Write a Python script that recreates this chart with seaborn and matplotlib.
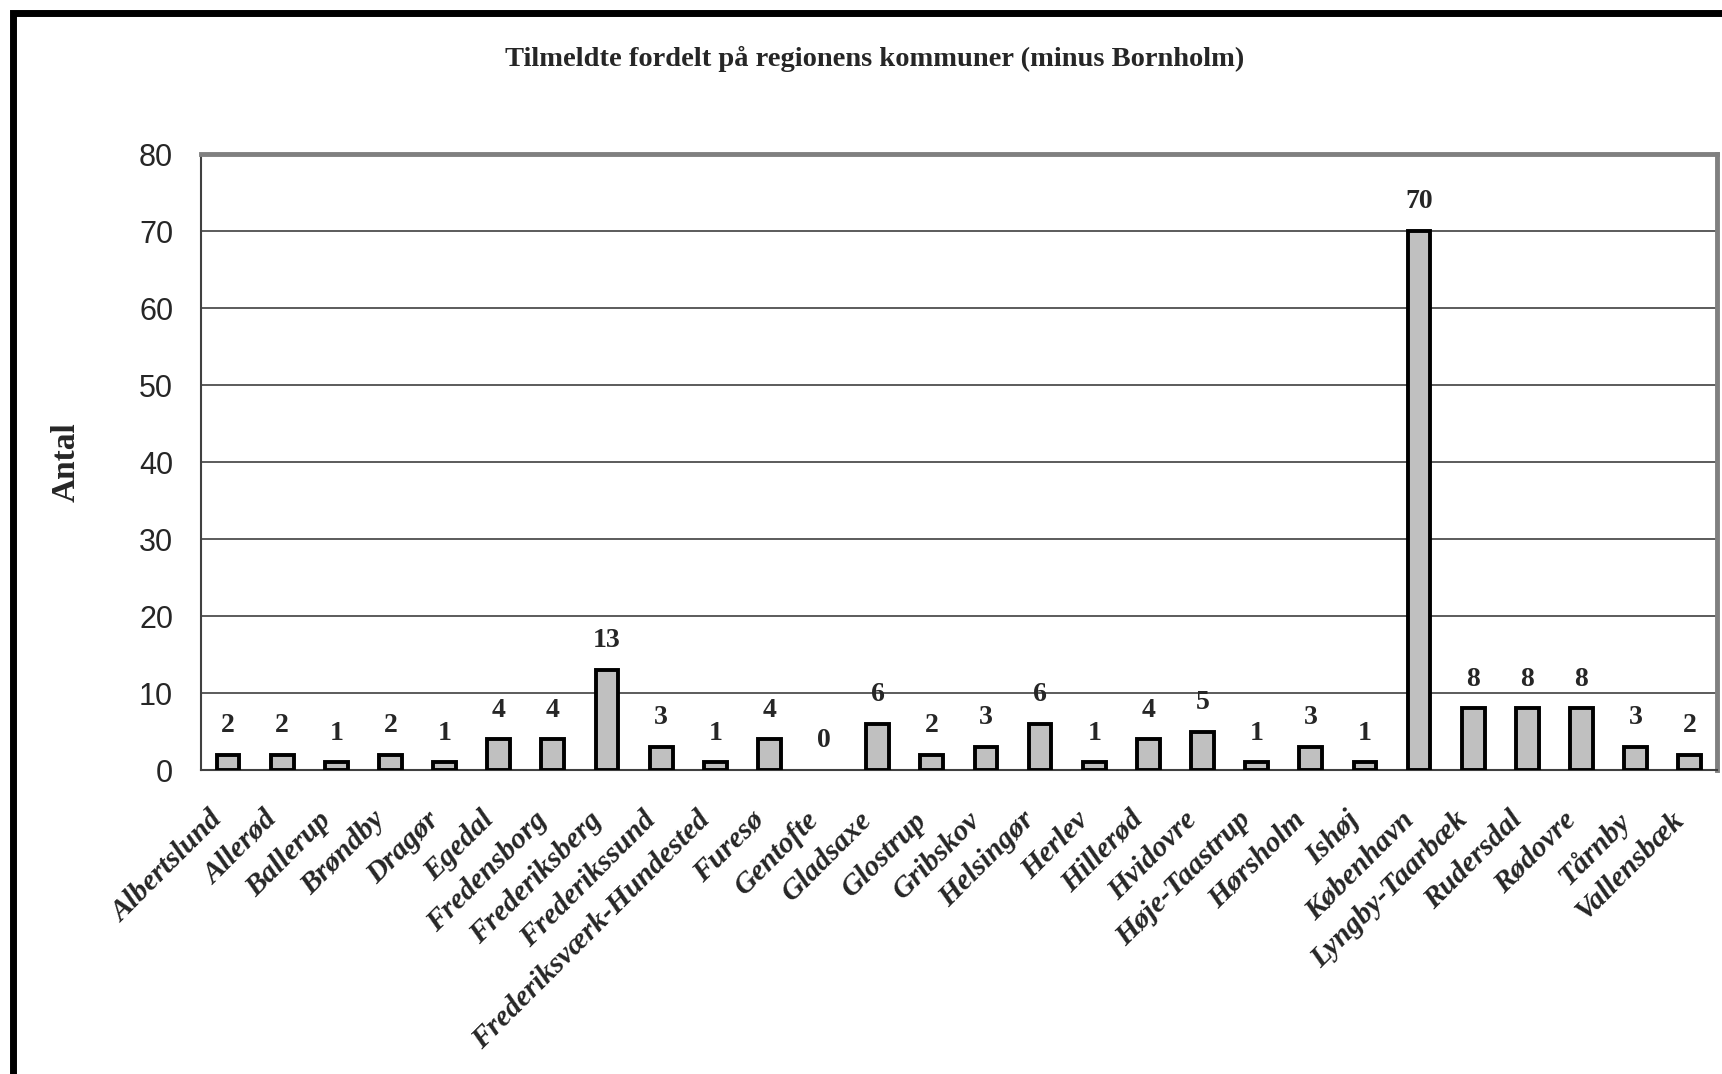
import matplotlib
matplotlib.use("Agg")
import matplotlib.pyplot as plt
import matplotlib.transforms as mtransforms
import seaborn as sns
import pandas as pd
import numpy as np
from matplotlib.patches import Rectangle

categories = ["Albertslund", "Allerød", "Ballerup", "Brøndby", "Dragør", "Egedal",
              "Fredensborg", "Frederiksberg", "Frederikssund", "Frederiksværk-Hundested",
              "Furesø", "Gentofte", "Gladsaxe", "Glostrup", "Gribskov", "Helsingør",
              "Herlev", "Hillerød", "Hvidovre", "Høje-Taastrup", "Hørsholm", "Ishøj",
              "København", "Lyngby-Taarbæk", "Rudersdal", "Rødovre", "Tårnby", "Vallensbæk"]
values = [2, 2, 1, 2, 1, 4, 4, 13, 3, 1, 4, 0, 6, 2, 3, 6, 1, 4, 5, 1, 3, 1, 70, 8, 8, 8, 3, 2]
yticks = [0, 10, 20, 30, 40, 50, 60, 70, 80]
title = "Tilmeldte fordelt på regionens kommuner (minus Bornholm)"
ylabel = "Antal"

sns.set_style("white")
plt.rcParams['font.family'] = ['Liberation Serif', 'DejaVu Serif']

df = pd.DataFrame({"kommune": categories, "antal": values})

fig = plt.figure(figsize=(17.22, 10.74), dpi=100)
ax = fig.add_axes([0.1167, 0.283, 0.997 - 0.1167, 0.8566 - 0.283])

sns.barplot(data=df, x="kommune", y="antal", color="#C0C0C0", edgecolor="black",
            linewidth=2.8, width=0.42, saturation=1, ax=ax, zorder=3)
# zero-height bars are not visible in the reference
for p in ax.patches:
    if p.get_height() == 0:
        p.set_linewidth(0)

ax.set_ylim(0, 80)
ax.set_xlim(-0.5, len(categories) - 0.5)
ax.set_yticks(yticks)
ax.set_yticklabels([str(t) for t in yticks], family="Liberation Sans", fontsize=22)
ax.yaxis.grid(True, color="#404040", linewidth=1.2, zorder=0)
ax.set_axisbelow(True)

ax.set_xticks(range(len(categories)))
ax.set_xticklabels(categories, rotation=45, ha="right", rotation_mode="anchor",
                   fontsize=21.5, fontweight="bold", fontstyle="italic")
ax.tick_params(axis="x", which="major", length=0, pad=26)
shift = mtransforms.ScaledTranslation(-19 / 100, 0, fig.dpi_scale_trans)
for lab in ax.get_xticklabels():
    lab.set_transform(lab.get_transform() + shift)
ax.set_xticks(np.arange(-0.5, len(categories), 1.0), minor=True)
ax.tick_params(axis="x", which="minor", length=10, width=1.2, color="#404040", direction="out")
ax.tick_params(axis="y", length=8, width=1.2, color="#404040", direction="out", pad=12)

ax.set_xlabel("")
ax.set_ylabel(ylabel, fontsize=24, fontweight="bold", labelpad=41)

for s in ["top", "right"]:
    ax.spines[s].set_color("#808080")
    ax.spines[s].set_linewidth(3.5)
ax.spines["left"].set_color("#404040")
ax.spines["left"].set_linewidth(1.5)
ax.spines["bottom"].set_color("#404040")
ax.spines["bottom"].set_linewidth(1.5)

for c in ax.containers:
    ax.bar_label(c, labels=[str(v) for v in values], padding=12, fontsize=20,
                 fontweight="bold")

fig.text(0.508, 0.945, title, ha="center", va="center", fontsize=20.5, fontweight="bold")

# outer chart frame (left and top edges visible)
fig.patches.append(Rectangle((0.0075, -0.05), 1.5, 0.05 + 0.9875, transform=fig.transFigure,
                             fill=False, edgecolor="black", linewidth=5, zorder=10))

fig.savefig("out.png", dpi=100)
